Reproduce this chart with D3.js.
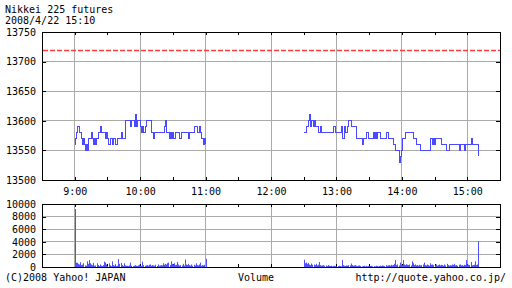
<!DOCTYPE html>
<html>
<head>
<meta charset="utf-8">
<script src="https://cdn.jsdelivr.net/npm/d3@7"></script>
<style>
body { margin: 0; background: #fff; }
svg { display: block; }
text { font-family: "DejaVu Sans Mono", monospace; font-size: 10px; fill: #000; }
</style>
</head>
<body>
<svg width="512" height="288"></svg>
<script>
// session start times (1 value per minute)
var amStart = "09:00",
    pmStart = "12:30";

var amPrice = [
  13560, 13570, 13580, 13590, 13580, 13580, 13570, 13560, 13570, 13560,
  13550, 13560, 13550, 13570, 13570, 13580, 13570, 13560, 13570, 13560,
  13570, 13570, 13580, 13580, 13590, 13580, 13580, 13580, 13570, 13580,
  13570, 13560, 13560, 13570, 13570, 13560, 13570, 13560, 13560, 13570,
  13570, 13570, 13570, 13580, 13570, 13570, 13570, 13600, 13600, 13600,
  13600, 13590, 13600, 13600, 13600, 13590, 13610, 13590, 13600, 13600,
  13590, 13580, 13590, 13580, 13580, 13590, 13600, 13600, 13600, 13600,
  13580, 13580, 13570, 13580, 13580, 13580, 13580, 13580, 13580, 13580,
  13580, 13580, 13590, 13600, 13580, 13580, 13580, 13570, 13580, 13570,
  13580, 13570, 13580, 13580, 13580, 13580, 13570, 13570, 13580, 13580,
  13580, 13580, 13580, 13580, 13570, 13580, 13580, 13580, 13580, 13580,
  13590, 13590, 13590, 13580, 13590, 13580, 13570, 13570, 13560, 13570,
  13560
];

var pmPrice = [
  13580, 13580, 13580, 13590, 13600, 13610, 13590, 13600, 13600, 13590,
  13600, 13590, 13590, 13590, 13580, 13590, 13580, 13580, 13580, 13580,
  13580, 13580, 13580, 13580, 13580, 13580, 13580, 13590, 13590, 13580,
  13580, 13580, 13580, 13580, 13580, 13590, 13570, 13590, 13580, 13580,
  13590, 13600, 13600, 13600, 13590, 13590, 13590, 13590, 13570, 13570,
  13570, 13570, 13570, 13570, 13560, 13570, 13570, 13570, 13580, 13570,
  13570, 13570, 13570, 13570, 13580, 13570, 13580, 13570, 13580, 13580,
  13570, 13570, 13570, 13570, 13570, 13570, 13580, 13580, 13570, 13570,
  13570, 13570, 13560, 13560, 13550, 13550, 13550, 13550, 13530, 13540,
  13550, 13570, 13570, 13580, 13580, 13580, 13580, 13580, 13580, 13580,
  13580, 13570, 13570, 13560, 13560, 13560, 13560, 13550, 13550, 13550,
  13550, 13550, 13550, 13550, 13550, 13550, 13570, 13570, 13560, 13570,
  13560, 13570, 13570, 13570, 13570, 13570, 13560, 13560, 13560, 13560,
  13560, 13550, 13550, 13550, 13560, 13560, 13560, 13560, 13560, 13560,
  13560, 13560, 13560, 13550, 13560, 13560, 13560, 13550, 13560, 13560,
  13560, 13560, 13560, 13560, 13570, 13560, 13560, 13560, 13560, 13560,
  13540
];

var amVolume = [
  9200, 700, 650, 500, 400, 750, 300, 350, 600, 250,
  200, 900, 500, 1100, 600, 400, 300, 650, 200, 250,
  600, 300, 150, 400, 200, 150, 300, 850, 700, 400,
  150, 600, 250, 150, 900, 300, 200, 450, 150, 200,
  1250, 500, 650, 300, 150, 600, 250, 200, 200, 150,
  250, 700, 200, 150, 200, 300, 200, 150, 250, 350,
  200, 150, 850, 300, 200, 250, 300, 200, 350, 400,
  200, 300, 250, 200, 350, 150, 400, 200, 250, 300,
  250, 600, 350, 500, 400, 600, 700, 300, 900, 500,
  400, 600, 300, 350, 800, 400, 200, 300, 250, 500,
  200, 1200, 400, 300, 500, 300, 200, 400, 200, 350,
  250, 600, 300, 250, 400, 700, 200, 300, 250, 350,
  1300
];

var pmVolume = [
  1150, 600, 700, 500, 650, 400, 300, 550, 350, 400,
  300, 500, 250, 350, 800, 300, 200, 250, 300, 200,
  250, 150, 300, 200, 150, 200, 100, 150, 200, 150,
  100, 150, 200, 150, 100, 1100, 300, 200, 150, 250,
  200, 300, 250, 550, 300, 200, 250, 300, 200, 150,
  200, 250, 150, 100, 150, 200, 100, 150, 100, 150,
  100, 150, 200, 100, 150, 100, 200, 150, 100, 150,
  200, 150, 250, 200, 150, 300, 200, 250, 300, 200,
  350, 250, 300, 500, 1100, 300, 400, 250, 700, 350,
  300, 1100, 400, 300, 450, 350, 300, 400, 250, 900,
  600, 300, 400, 250, 300, 200, 350, 250, 300, 400,
  700, 300, 250, 400, 300, 200, 600, 350, 400, 300,
  250, 400, 200, 300, 400, 250, 350, 300, 200, 400,
  250, 500, 300, 200, 300, 250, 400, 300, 500, 250,
  300, 200, 350, 400, 250, 300, 200, 350, 300, 1100,
  400, 350, 300, 800, 250, 300, 350, 900, 300, 400,
  4100
];

var priceTicks = [13500, 13550, 13600, 13650, 13700, 13750];
var volumeTicks = [0, 2000, 4000, 6000, 8000, 10000];
var hourLabels = ["9:00", "10:00", "11:00", "12:00", "13:00", "14:00", "15:00"];
var limitPrice = 13720;

var svg = d3.select("svg");
var parse = d3.timeParse("%Y-%m-%d %H:%M");
var day = "2008-04-22 ";

function series(start, vals) {
  var t0 = parse(day + start);
  return vals.map(function(v, i) { return { t: d3.timeMinute.offset(t0, i), v: v }; });
}

var hours = hourLabels.map(function(h) { return parse(day + h); });

var x = d3.scaleTime()
    .domain([parse(day + "08:30"), parse(day + "15:30")])
    .range([42, 500]);

var y = d3.scaleLinear().domain([13500, 13750]).range([180, 32]);
var yv = d3.scaleLinear().domain([0, 10000]).range([267, 204]);

var halfHours = d3.timeMinute.every(30).range(x.domain()[0], d3.timeMinute.offset(x.domain()[1], 1));

function panel(ys, ticks, fmt, gridVals) {
  var top = ys.range()[1], bot = ys.range()[0];
  var g = svg.append("g");

  // grid
  g.selectAll(".hg").data(gridVals).enter().append("line")
    .attr("x1", 42).attr("x2", 500)
    .attr("y1", function(d) { return ys(d); }).attr("y2", function(d) { return ys(d); })
    .attr("stroke", "#aaa").attr("shape-rendering", "crispEdges");
  g.selectAll(".vg").data(hours).enter().append("line")
    .attr("x1", function(d) { return x(d); }).attr("x2", function(d) { return x(d); })
    .attr("y1", top).attr("y2", bot)
    .attr("stroke", "#aaa").attr("shape-rendering", "crispEdges");

  // axes, ticks inward
  var left = g.append("g").attr("transform", "translate(42,0)")
    .call(d3.axisLeft(ys).tickValues(ticks).tickSize(-4).tickPadding(6).tickFormat(fmt));
  var right = g.append("g").attr("transform", "translate(500,0)")
    .call(d3.axisRight(ys).tickValues(ticks).tickSize(-4).tickFormat(""));
  var topAx = g.append("g").attr("transform", "translate(0," + top + ")")
    .call(d3.axisTop(x).tickValues(halfHours).tickSize(-3).tickFormat(""));
  var botAx = g.append("g").attr("transform", "translate(0," + bot + ")")
    .call(d3.axisBottom(x).tickValues(halfHours).tickSize(-3).tickFormat(""));

  [left, right, topAx, botAx].forEach(function(a) {
    a.select(".domain").remove();
    a.selectAll("line").attr("shape-rendering", "crispEdges");
    a.attr("font-family", null).attr("font-size", null);
  });

  g.append("rect")
    .attr("x", 42).attr("y", top).attr("width", 458).attr("height", bot - top)
    .attr("fill", "none").attr("stroke", "#000").attr("shape-rendering", "crispEdges");
  return g;
}

panel(y, priceTicks, d3.format("d"), [13550, 13600, 13650, 13700]);
panel(yv, volumeTicks, d3.format("d"), [2000, 4000, 6000, 8000]);

// hour labels under the price panel
var hourAxis = svg.append("g").attr("transform", "translate(0,180)")
  .call(d3.axisBottom(x).tickValues(hours).tickSize(0).tickPadding(8)
    .tickFormat(d3.timeFormat("%-H:%M")));
hourAxis.select(".domain").remove();
hourAxis.attr("font-family", null).attr("font-size", null);

// limit line
svg.append("line")
  .attr("x1", 43).attr("x2", 500)
  .attr("y1", Math.round(y(limitPrice)) + 0.5).attr("y2", Math.round(y(limitPrice)) + 0.5)
  .attr("stroke", "#ff3b3b").attr("stroke-width", 1.3).attr("stroke-dasharray", "5,2");

// price
var line = d3.line()
  .x(function(d) { return x(d.t); })
  .y(function(d) { return y(d.v); })
  .curve(d3.curveStepAfter);

[series(amStart, amPrice), series(pmStart, pmPrice)].forEach(function(s) {
  svg.append("path").datum(s)
    .attr("d", line)
    .attr("fill", "none")
    .attr("stroke", "#4a4aff")
    .attr("shape-rendering", "crispEdges");
});

// volume
var vols = series(amStart, amVolume).concat(series(pmStart, pmVolume));
svg.append("g").selectAll("line").data(vols).enter().append("line")
  .attr("x1", function(d) { return Math.round(x(d.t)) + 0.5; })
  .attr("x2", function(d) { return Math.round(x(d.t)) + 0.5; })
  .attr("y1", yv(0))
  .attr("y2", function(d) { return yv(d.v); })
  .attr("stroke", "#5050ff");

// texts
svg.append("text").attr("x", 5).attr("y", 12.5).text("Nikkei 225 futures");
svg.append("text").attr("x", 5).attr("y", 24).text("2008/4/22 15:10");
svg.append("text").attr("x", 5).attr("y", 281).text("(C)2008 Yahoo! JAPAN");
svg.append("text").attr("x", 256).attr("y", 281).attr("text-anchor", "middle").text("Volume");
svg.append("text").attr("x", 506).attr("y", 281).attr("text-anchor", "end").text("http://quote.yahoo.co.jp/");
</script>
</body>
</html>
